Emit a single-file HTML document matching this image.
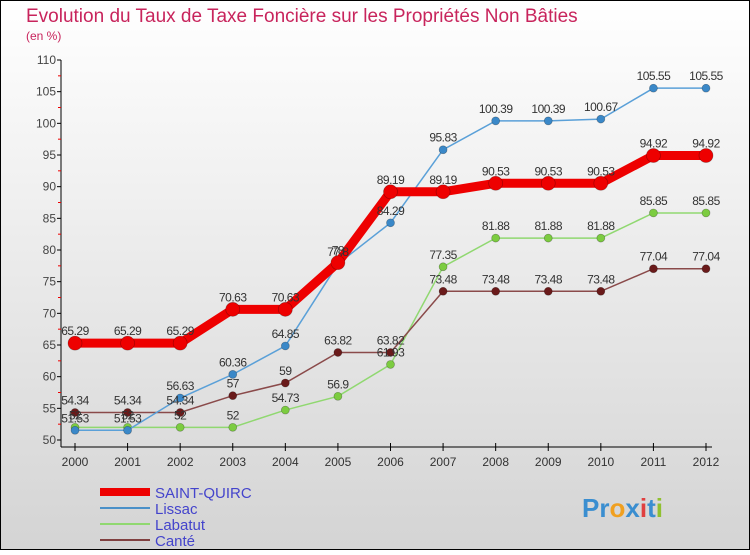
<!DOCTYPE html>
<html><head><meta charset="utf-8"><style>
body{margin:0}
#c{width:750px;height:550px;position:relative;font-family:"Liberation Sans",sans-serif}
</style></head><body>
<div id="c">
<svg id="s" width="750" height="550" xmlns="http://www.w3.org/2000/svg">
<defs><linearGradient id="bg" x1="0" y1="0" x2="0" y2="1"><stop offset="0" stop-color="#ffffff"/><stop offset="1" stop-color="#d4d4d4"/></linearGradient></defs>
<rect x="0.5" y="0.5" width="749" height="549" fill="url(#bg)" stroke="#000"/>
<text x="26" y="22" font-size="19" fill="#c8245c">Evolution du Taux de Taxe Foncière sur les Propriétés Non Bâties</text>
<text x="26" y="40" font-size="12" fill="#c8245c">(en %)</text>
<g id="axes"></g><g id="series"></g><g id="labels"></g>
<g>
<line x1="100" y1="492" x2="150" y2="492" stroke="#e00" stroke-width="8"/>
<text x="155" y="498" font-size="15" fill="#4444cc">SAINT-QUIRC</text>
<line x1="100" y1="508" x2="150" y2="508" stroke="#4a90c8" stroke-width="2"/>
<text x="155" y="514" font-size="15" fill="#4444cc">Lissac</text>
<line x1="100" y1="524" x2="150" y2="524" stroke="#90d870" stroke-width="2"/>
<text x="155" y="530" font-size="15" fill="#4444cc">Labatut</text>
<line x1="100" y1="540" x2="150" y2="540" stroke="#804040" stroke-width="2"/>
<text x="155" y="546" font-size="15" fill="#4444cc">Canté</text>
</g>
<text x="582" y="517" font-size="26" font-weight="bold" fill="#3a8ed0">Pr<tspan fill="#f0a020">o</tspan>x<tspan fill="#e04040">i</tspan>t<tspan fill="#90c030">i</tspan></text>
</svg></div>
<script>
const years=[2000,2001,2002,2003,2004,2005,2006,2007,2008,2009,2010,2011,2012];
const yTicks=[50,55,60,65,70,75,80,85,90,95,100,105,110];
const saintQuirc=[65.29,65.29,65.29,70.63,70.63,78,89.19,89.19,90.53,90.53,90.53,94.92,94.92];
const lissac=[51.53,51.53,56.63,60.36,64.85,77.8,84.29,95.83,100.39,100.39,100.67,105.55,105.55];
const labatut=[52,52,52,52,54.73,56.9,61.93,77.35,81.88,81.88,81.88,85.85,85.85];
const cante=[54.34,54.34,54.34,57,59,63.82,63.82,73.48,73.48,73.48,73.48,77.04,77.04];
const NS='http://www.w3.org/2000/svg';
const X=i=>75+i*(706-75)/12, Y=v=>440-(v-50)*(380/60);
function mk(t,a,p){const e=document.createElementNS(NS,t);for(const k in a)e.setAttribute(k,a[k]);p.appendChild(e);return e;}
const ax=document.getElementById('axes'),sg=document.getElementById('series'),lg=document.getElementById('labels');
let e=mk('line',{x1:61,y1:60,x2:61,y2:447,stroke:'#000'},ax);

e=mk('line',{x1:61,y1:447,x2:712,y2:447,stroke:'#000'},ax);

yTicks.forEach(v=>{mk('line',{x1:57,y1:Y(v),x2:61,y2:Y(v),stroke:'#000'},ax);
 if(v<110)mk('line',{x1:58,y1:Y(v+2.5),x2:61,y2:Y(v+2.5),stroke:'#e00'},ax);
 const t=mk('text',{x:56,y:Y(v)+4,'font-size':12,fill:'#444','text-anchor':'end'},ax);t.textContent=v;
 });
years.forEach((y,i)=>{mk('line',{x1:X(i),y1:443,x2:X(i),y2:451,stroke:'#000'},ax);
 const t=mk('text',{x:X(i),y:466,'font-size':12,fill:'#333','text-anchor':'middle'},ax);t.textContent=y;
 });
function draw(vals,col,w,r,name,dot){
 const pl=mk('polyline',{points:vals.map((v,i)=>X(i)+','+Y(v)).join(' '),fill:'none',stroke:col,'stroke-width':w},sg);
 
 vals.forEach((v,i)=>{const c=mk('circle',{cx:X(i),cy:Y(v),r:r,fill:dot,stroke:'rgba(0,0,0,0.3)','stroke-width':0.7},sg);
  
  const t=mk('text',{x:X(i),y:Y(v)-8,'font-size':12,fill:'#333','text-anchor':'middle','letter-spacing':'-0.5'},lg);t.textContent=v;
  });
}
draw(labatut,'#90d870',1.5,4,'labatut','#7ccc40');
draw(cante,'#8a4a4a',1.5,4,'cante','#6a1a1a');
draw(lissac,'#5aa0d8',1.5,4,'lissac','#3a88c8');
draw(saintQuirc,'#ee0000',9,7,'saint-quirc','#ee0000');
</script></body></html>
